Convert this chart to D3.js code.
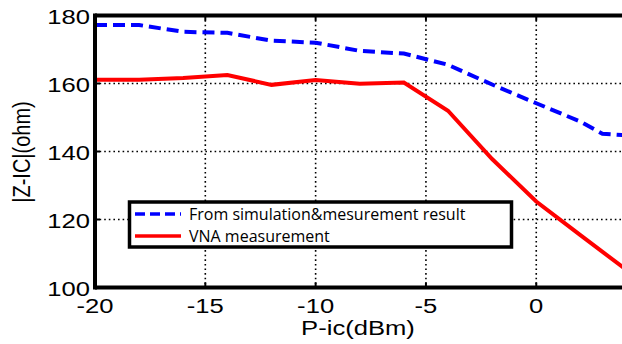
<!DOCTYPE html>
<html><head><meta charset="utf-8">
<script src="https://cdn.jsdelivr.net/npm/d3@7"></script>
<style>body{margin:0;background:#fff}svg{display:block}</style>
</head><body><div id="chart"></div>
<script>
const xValues = [-20, -18, -16, -14, -12, -10, -8, -6, -4, -2, 0, 2, 3, 4];
const simValues = [177.2, 177.2, 175.2, 174.9, 172.6, 172.0, 169.6, 168.8, 165.5, 159.7, 154.2, 148.8, 145.2, 144.8];
const vnaX = [-20, -18, -16, -14, -12, -10, -8, -6, -4, -2, 0, 2, 4];
const vnaValues = [161.1, 161.1, 161.6, 162.5, 159.6, 161.0, 159.9, 160.3, 152.0, 137.8, 125.3, 115.4, 105.6];
const xTicks = [-20, -15, -10, -5, 0];
const yTicks = [100, 120, 140, 160, 180];
const seriesNames = ["From simulation&mesurement result", "VNA measurement"];

const W = 622, H = 344;
const svg = d3.select("#chart").append("svg").attr("width", W).attr("height", H);
const x = d3.scaleLinear().domain([-20, 4]).range([95, 624.5]);
const y = d3.scaleLinear().domain([100, 180]).range([287.5, 15.5]);

// grid
const grid = svg.append("g");
grid.selectAll("line.gx").data(xTicks.slice(1)).enter().append("line")
  .attr("x1", d => x(d)).attr("x2", d => x(d)).attr("y1", y(180)).attr("y2", y(100))
  .attr("stroke", "#000").attr("stroke-width", 1.6).attr("stroke-dasharray", "1.6,3");
grid.selectAll("line.gy").data(yTicks.slice(1, -1)).enter().append("line")
  .attr("x1", x(-20)).attr("x2", W).attr("y1", d => y(d)).attr("y2", d => y(d))
  .attr("stroke", "#000").attr("stroke-width", 1.6).attr("stroke-dasharray", "1.6,3");

// lines
const line = d3.line().x(d => x(d[0])).y(d => y(d[1]));
svg.append("path").datum(vnaX.map((v, i) => [v, vnaValues[i]]))
  .attr("d", line).attr("fill", "none").attr("stroke", "#ff0000").attr("stroke-width", 4);
svg.append("path").datum(xValues.map((v, i) => [v, simValues[i]]))
  .attr("d", line).attr("fill", "none").attr("stroke", "#0000ff").attr("stroke-width", 4)
  .attr("stroke-dasharray", "12,6");

// frame
svg.append("line").attr("x1", x(-20)).attr("x2", W).attr("y1", y(180)).attr("y2", y(180))
  .attr("stroke", "#000").attr("stroke-width", 4);
svg.append("line").attr("x1", x(-20)).attr("x2", W).attr("y1", y(100)).attr("y2", y(100))
  .attr("stroke", "#000").attr("stroke-width", 4);
svg.append("line").attr("x1", x(-20)).attr("x2", x(-20)).attr("y1", y(180) - 2).attr("y2", y(100) + 2)
  .attr("stroke", "#000").attr("stroke-width", 4);

// ticks inside
svg.selectAll("line.tx").data(xTicks).enter().append("line")
  .attr("x1", d => x(d)).attr("x2", d => x(d)).attr("y1", y(100)).attr("y2", y(100) - 5)
  .attr("stroke", "#000").attr("stroke-width", 2);
svg.selectAll("line.tx2").data(xTicks).enter().append("line")
  .attr("x1", d => x(d)).attr("x2", d => x(d)).attr("y1", y(180)).attr("y2", y(180) + 5)
  .attr("stroke", "#000").attr("stroke-width", 2);
svg.selectAll("line.ty").data(yTicks).enter().append("line")
  .attr("x1", x(-20)).attr("x2", x(-20) + 5).attr("y1", d => y(d)).attr("y2", d => y(d))
  .attr("stroke", "#000").attr("stroke-width", 2);

const font = "'Liberation Sans', Arial, sans-serif";
// tick labels
svg.selectAll("text.yt").data(yTicks).enter().append("text")
  .attr("transform", d => `translate(90,${y(d) + 8}) scale(1.22,1)`)
  .attr("text-anchor", "end").attr("font-family", font).attr("font-size", 21)
  .text(d => d);
svg.selectAll("text.xt").data(xTicks).enter().append("text")
  .attr("transform", d => `translate(${x(d)},${313}) scale(1.22,1)`)
  .attr("text-anchor", "middle").attr("font-family", font).attr("font-size", 21)
  .text(d => d);

// axis titles
svg.append("text").attr("transform", `translate(358,335) scale(1.22,1)`)
  .attr("text-anchor", "middle").attr("font-family", font).attr("font-size", 21).text("P-ic(dBm)");
svg.append("text").attr("transform", `translate(30,152) rotate(-90) scale(1,1.22)`)
  .attr("text-anchor", "middle").attr("font-family", font).attr("font-size", 20).text("|Z-IC|(ohm)");

// legend
const lg = svg.append("g");
lg.append("rect").attr("x", 129.5).attr("y", 202).attr("width", 382).attr("height", 45)
  .attr("fill", "#fff").attr("stroke", "#000").attr("stroke-width", 3.5);
const colors = ["#0000ff", "#ff0000"];
const dashes = ["10,5", null];
seriesNames.forEach((name, i) => {
  const yy = 214 + i * 22;
  lg.append("line").attr("x1", 135).attr("x2", 181).attr("y1", yy).attr("y2", yy)
    .attr("stroke", colors[i]).attr("stroke-width", 3.5).attr("stroke-dasharray", dashes[i]);
  lg.append("text").attr("x", 189).attr("y", yy + 5.5).attr("font-family", "'Open Sans', sans-serif")
    .attr("font-size", 16).attr("fill", "#000").text(name);
});
</script></body></html>
